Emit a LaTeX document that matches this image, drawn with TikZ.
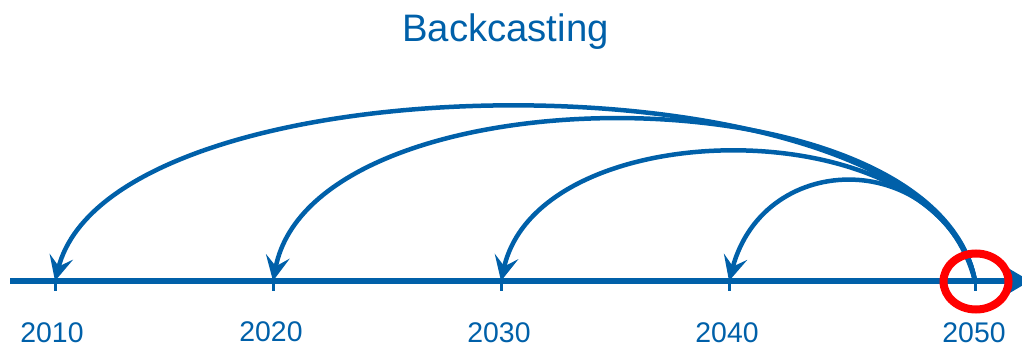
\documentclass[tikz,border=0pt]{standalone}
\usepackage{fontspec}
\setmainfont{Liberation Sans}
\usetikzlibrary{arrows.meta,shapes.geometric}
\definecolor{bcblue}{HTML}{0060A9}
\tikzset{
  axisline/.style={draw=bcblue,line width=5.5pt},
  tickline/.style={draw=bcblue,line width=3pt},
  backarc/.style={draw=bcblue,line width=4.5pt,-{Stealth[length=25pt,width=24pt,inset=10pt]}},
  yearlabel/.style={text=bcblue,font=\fontsize{28.4}{28.4}\selectfont,inner sep=0pt,anchor=center},
  titlelabel/.style={text=bcblue,font=\fontsize{38.3}{38.3}\selectfont,inner sep=0pt,anchor=center},
  marker/.style={draw=red,line width=8pt,ellipse,minimum width=65pt,minimum height=56pt,inner sep=0pt}
}
\begin{document}
\begin{tikzpicture}[x=1pt,y=-1pt]
\useasboundingbox (0,0) rectangle (1022,345);
\node[titlelabel] (title) at (505.5,32) {Backcasting};
\coordinate (start) at (10,281);
\coordinate (end) at (1030,281);
\coordinate (t10) at (55,281);
\coordinate (t20) at (273,281);
\coordinate (t30) at (501,281);
\coordinate (t40) at (729,281);
\coordinate (t50) at (975,281);
\coordinate (b10) at (55,291);
\coordinate (b20) at (273,291);
\coordinate (b30) at (501,291);
\coordinate (b40) at (729,291);
\coordinate (b50) at (975,291);
\draw[axisline] (start) -- (1012,281);
\fill[bcblue] (1008,268) -- (end) -- (1008,294) -- cycle;
\foreach \n in {10,20,30,40,50} \draw[tickline] (t\n) -- (b\n);
\draw[backarc] (t50) .. controls (935,49) and (115,49) .. (t10);
\draw[backarc] (t50) .. controls (935,66) and (315,66) .. (t20);
\draw[backarc] (t50) .. controls (940,109) and (540,109) .. (t30);
\draw[backarc] (t50) .. controls (940,148) and (765,148) .. (t40);
\node[marker] (mark) at (976,281.5) {};
\node[yearlabel] (y10) at (52,333) {2010};
\node[yearlabel] (y20) at (271,332) {2020};
\node[yearlabel] (y30) at (499,333) {2030};
\node[yearlabel] (y40) at (727,333) {2040};
\node[yearlabel] (y50) at (974,333) {2050};
\end{tikzpicture}
\end{document}
